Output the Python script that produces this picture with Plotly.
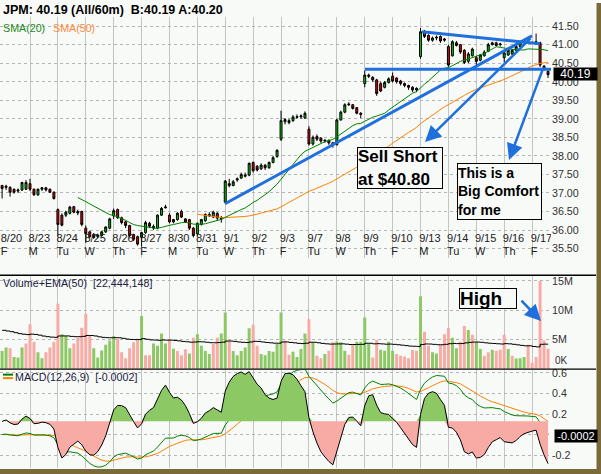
import plotly.graph_objects as go
import numpy as np
import pandas as pd

W, H = 601, 474

day_labels = ["8/20", "8/23", "8/24", "8/25", "8/26", "8/27", "8/30", "8/31", "9/1", "9/2",
              "9/3", "9/7", "9/8", "9/9", "9/10", "9/13", "9/14", "9/15", "9/16", "9/17"]
day_letters = ["F", "M", "Tu", "W", "Th", "F", "M", "Tu", "W", "Th",
               "F", "Tu", "W", "Th", "F", "M", "Tu", "W", "Th", "F"]
BARS_PER_DAY = 7

# hourly candles
opens = [37.20, 37.15, 37.15, 37.10, 37.05, 37.08, 37.10,
         37.25, 37.10, 36.95, 37.10, 37.14, 37.10, 37.02,
         36.55, 36.40, 36.40, 36.45, 36.63, 36.50, 36.50,
         36.05, 35.95, 35.88, 35.82, 35.85, 35.95, 36.05,
         36.38, 36.55, 36.33, 36.22, 36.12, 35.88, 35.82,
         35.80, 35.93, 36.18, 36.05, 36.05, 36.40, 36.60,
         36.40, 36.28, 36.28, 36.50, 36.30, 36.28, 36.05,
         35.90, 36.15, 36.25, 36.42, 36.35, 36.45, 36.32,
         36.75, 37.25, 37.20, 37.35, 37.40, 37.45, 37.48,
         37.82, 37.72, 37.65, 37.75, 37.68, 37.82, 37.98,
         38.45, 38.92, 38.90, 38.95, 39.04, 39.05, 39.02,
         38.72, 38.32, 38.52, 38.48, 38.40, 38.42, 38.35,
         38.30, 38.97, 39.18, 39.40, 39.38, 39.30, 39.15,
         39.95, 40.18, 40.12, 40.05, 39.95, 39.85, 39.98,
         40.15, 40.10, 40.02, 39.95, 39.90, 39.85, 39.78,
         40.68, 41.35, 41.25, 41.12, 41.18, 41.22, 41.12,
         40.95, 40.70, 41.05, 41.00, 40.85, 40.55, 40.70,
         40.65, 40.58, 40.70, 40.82, 41.00, 41.05, 41.00,
         40.65, 40.72, 40.75, 40.85, 40.95, 41.04, 41.05,
         41.05, 41.05, 41.05, 40.42, 40.28]
highs = [37.22, 37.22, 37.18, 37.12, 37.12, 37.30, 37.35,
         37.38, 37.12, 37.12, 37.16, 37.16, 37.12, 37.04,
         36.58, 36.45, 36.52, 36.65, 36.65, 36.55, 36.52,
         36.12, 35.98, 35.92, 35.90, 35.98, 36.10, 36.33,
         36.58, 36.58, 36.36, 36.25, 36.14, 35.90, 35.85,
         35.95, 36.25, 36.22, 36.15, 36.42, 36.62, 36.68,
         36.45, 36.30, 36.48, 36.55, 36.32, 36.30, 36.08,
         36.20, 36.30, 36.45, 36.48, 36.52, 36.48, 36.38,
         37.35, 37.38, 37.35, 37.42, 37.55, 37.55, 37.82,
         37.85, 37.75, 37.80, 37.78, 37.85, 38.00, 38.18,
         39.22, 39.02, 39.00, 39.10, 39.12, 39.12, 39.20,
         38.80, 38.55, 38.58, 38.50, 38.45, 38.44, 38.38,
         39.00, 39.22, 39.42, 39.45, 39.40, 39.32, 39.18,
         40.30, 40.22, 40.15, 40.08, 40.00, 40.02, 40.12,
         40.25, 40.12, 40.05, 39.98, 39.92, 39.88, 39.85,
         41.45, 41.40, 41.28, 41.22, 41.25, 41.25, 41.18,
         41.00, 41.12, 41.10, 41.02, 40.88, 40.80, 40.92,
         40.70, 40.75, 40.85, 41.05, 41.08, 41.08, 41.05,
         40.82, 40.88, 40.88, 41.00, 41.08, 41.10, 41.10,
         41.08, 41.30, 41.08, 40.45, 40.30]
lows = [36.85, 37.08, 36.90, 36.98, 37.00, 37.05, 37.08,
        37.05, 36.92, 36.92, 37.05, 37.04, 37.00, 36.82,
        35.85, 36.10, 36.35, 36.42, 36.45, 36.40, 36.10,
        35.65, 35.78, 35.76, 35.78, 35.82, 35.92, 36.02,
        36.30, 36.30, 36.15, 36.05, 35.80, 35.70, 35.58,
        35.55, 35.90, 36.05, 36.00, 36.02, 36.38, 36.58,
        36.18, 36.18, 36.25, 36.32, 36.20, 36.00, 35.80,
        35.85, 36.12, 36.22, 36.35, 36.32, 36.25, 36.20,
        36.72, 37.15, 37.18, 37.30, 37.38, 37.42, 37.45,
        37.55, 37.58, 37.62, 37.62, 37.65, 37.80, 37.95,
        38.40, 38.85, 38.85, 38.92, 39.00, 39.00, 39.00,
        38.28, 38.28, 38.40, 38.35, 38.35, 38.30, 38.22,
        38.28, 38.95, 39.15, 39.35, 39.25, 39.12, 39.02,
        39.85, 40.10, 40.00, 39.62, 39.72, 39.82, 39.95,
        39.98, 39.95, 39.90, 39.85, 39.78, 39.72, 39.72,
        40.62, 41.18, 41.08, 41.08, 41.12, 41.05, 41.08,
        40.40, 40.68, 40.95, 40.75, 40.48, 40.50, 40.68,
        40.45, 40.55, 40.68, 40.80, 40.98, 40.95, 40.95,
        40.52, 40.70, 40.72, 40.82, 40.92, 41.02, 41.02,
        41.02, 41.00, 40.40, 40.30, 40.10]
closes = [37.12, 37.18, 37.02, 37.02, 37.08, 37.28, 37.28,
          37.10, 36.95, 37.10, 37.14, 37.08, 37.02, 36.85,
          36.15, 36.13, 36.48, 36.62, 36.48, 36.46, 36.15,
          35.90, 35.82, 35.80, 35.86, 35.95, 36.08, 36.30,
          36.52, 36.33, 36.20, 36.12, 35.85, 35.75, 35.62,
          35.93, 36.20, 36.10, 36.10, 36.40, 36.58, 36.62,
          36.22, 36.22, 36.45, 36.35, 36.22, 36.05, 35.85,
          36.18, 36.28, 36.42, 36.38, 36.48, 36.32, 36.30,
          37.32, 37.20, 37.30, 37.38, 37.50, 37.48, 37.80,
          37.60, 37.62, 37.75, 37.68, 37.82, 37.95, 38.15,
          38.95, 38.98, 38.95, 39.05, 39.06, 39.08, 39.15,
          38.32, 38.50, 38.45, 38.40, 38.42, 38.35, 38.30,
          38.97, 39.18, 39.38, 39.38, 39.28, 39.15, 39.12,
          40.18, 40.15, 40.05, 39.68, 39.75, 39.98, 40.08,
          40.02, 40.00, 39.95, 39.90, 39.85, 39.78, 39.82,
          41.35, 41.22, 41.12, 41.18, 41.20, 41.10, 41.15,
          40.45, 41.08, 40.98, 40.80, 40.52, 40.75, 40.88,
          40.55, 40.72, 40.80, 41.00, 41.05, 40.98, 41.02,
          40.78, 40.85, 40.85, 40.95, 41.05, 41.06, 41.06,
          41.06, 41.08, 40.45, 40.33, 40.19]

# hourly volume in millions and its colour (1 = green / up, 0 = pink / down)
volumes_m = [3.0, 3.6, 3.5, 2.0, 1.9, 3.6, 4.3,
             7.6, 4.6, 2.8, 1.8, 2.8, 3.6, 4.6,
             11.1, 5.9, 5.6, 3.5, 4.3, 5.3, 7.0,
             9.4, 5.6, 3.5, 1.9, 3.1, 4.1, 4.8,
             5.6, 5.1, 2.8, 1.8, 3.5, 4.5, 5.1,
             9.0, 2.3, 2.3, 4.3, 3.9, 6.0, 4.3,
             5.0, 3.4, 3.0, 2.3, 3.3, 2.6, 5.3,
             5.9, 3.9, 3.0, 2.5, 4.2, 5.3, 6.0,
             9.6, 4.8, 3.0, 2.3, 3.0, 3.6, 6.9,
             7.5, 3.9, 2.5, 2.3, 3.0, 2.9, 4.2,
             9.6, 4.8, 2.4, 2.9, 2.0, 3.35, 6.0,
             8.46, 4.5, 2.2, 1.8, 2.5, 3.05, 4.5,
             4.65, 4.5, 3.05, 2.4, 4.2, 4.6, 4.6,
             8.75, 4.3, 1.9, 4.9, 3.24, 3.05, 4.6,
             3.05, 2.5, 2.2, 2.1, 1.8, 3.2, 3.05,
             12.4, 6.3, 3.9, 2.8, 2.6, 4.1, 5.9,
             6.9, 5.3, 3.5, 4.6, 7.3, 6.6, 5.8,
             4.6, 3.35, 2.2, 2.8, 3.24, 3.05, 3.24,
             5.8, 3.35, 2.2, 1.75, 1.8, 2.0, 4.1,
             1.0, 2.0, 15.0, 4.8, 3.4]
vol_up = [1, 1, 0, 1, 1, 1, 0,
          0, 0, 1, 1, 0, 0, 0,
          0, 1, 1, 1, 0, 0, 0,
          0, 0, 1, 1, 1, 1, 1,
          1, 0, 0, 0, 0, 0, 0,
          1, 0, 0, 1, 1, 1, 1,
          0, 1, 0, 0, 0, 1, 0,
          1, 1, 1, 1, 0, 0, 1,
          1, 0, 1, 1, 1, 1, 1,
          0, 0, 1, 1, 1, 1, 1,
          1, 0, 0, 1, 1, 1, 1,
          0, 1, 0, 0, 1, 0, 0,
          1, 1, 1, 0, 0, 1, 1,
          1, 1, 0, 0, 1, 1, 1,
          1, 0, 0, 0, 0, 0, 0,
          1, 0, 0, 1, 1, 0, 0,
          0, 1, 1, 0, 0, 1, 0,
          1, 1, 0, 0, 1, 0, 0,
          0, 1, 0, 1, 1, 1, 0,
          0, 0, 0, 0, 0]
vol_ema_seed = 6.7   # EMA(50) value carried in from before the first bar

price_ticks = [35.5, 36.0, 36.5, 37.0, 37.5, 38.0, 38.5, 39.0, 39.5, 40.0, 40.5, 41.0, 41.5]
vol_ticks = [0, 5, 10, 15]
vol_tick_text = ["", "5M", "10M", "15M"]
macd_ticks = [-0.2, 0.0, 0.2, 0.4, 0.6]
macd_tick_text = ["-0.2", "", "0.2", "0.4", "0.6"]

# ---------------------------------------------------------------- indicators
nbar = len(closes)
xs = list(range(nbar))
cs = pd.Series(closes)
sma20 = cs.rolling(20).mean()
sma50 = cs.rolling(50).mean()
ema12 = cs.ewm(span=12, adjust=False).mean()
ema26 = cs.ewm(span=26, adjust=False).mean()
macd = ema12 - ema26
signal = macd.ewm(span=9, adjust=False).mean()
hist = (macd - signal).to_numpy()

alpha = 2.0 / 51.0
vol_ema = []
prev = vol_ema_seed
for v in volumes_m:
    prev = prev + alpha * (v - prev)
    vol_ema.append(prev)

# ---------------------------------------------------------------- geometry helpers
def fx(px):
    return px / W

def fy(py):
    return 1 - py / H

PX0, PX_PER_BAR = 2.1, 3.985          # pixel of bar 0 and pixel step per bar
X_RIGHT = 551
x_range = [(0 - PX0) / PX_PER_BAR, (X_RIGHT - PX0) / PX_PER_BAR]

P_TOP, P_BOT = 14, 257
PRICE_Y0, PRICE_PX = 23.3, 37.3        # 41.50 sits at y=23.3, 37.3 px per dollar
price_range = [41.5 - (P_BOT - PRICE_Y0) / PRICE_PX, 41.5 + (PRICE_Y0 - P_TOP) / PRICE_PX]

V_TOP, V_BOT = 274.5, 368
vol_range = [0, (V_BOT - V_TOP) / 5.887]

M_TOP, M_BOT = 369, 468
macd_range = [-0.2 - (M_BOT - 455) / 103.4, 0.6 + (372.3 - M_TOP) / 103.4]
hist_zero_frac = (M_BOT - 421) / (M_BOT - M_TOP)
K = max(hist.max() / (1 - hist_zero_frac) * 1.04, -hist.min() / hist_zero_frac * 0.97)
hist_range = [-hist_zero_frac * K, (1 - hist_zero_frac) * K]

def to_bar(px):
    return (px - PX0) / PX_PER_BAR

def to_price(py):
    return 41.5 - (py - PRICE_Y0) / PRICE_PX

def to_vol(py):
    return (V_BOT - py) / 5.887

BG = "#f8faf8"
GREEN_C = "#00c800"
RED_C = "#e00000"
VOL_G = "#8cc864"
VOL_P = "#f8aaa4"
BLUE = "#1f6fdc"
FONT = "Arial"

fig = go.Figure()

# date labels (drawn under the candles)
day_starts = [d * BARS_PER_DAY - 0.35 for d in range(len(day_labels))]
fig.add_trace(go.Scatter(x=day_starts, y=[to_price(237.5)] * len(day_labels), text=day_labels,
                         mode="text", textposition="middle right",
                         textfont=dict(family=FONT, size=11, color="#202020"),
                         xaxis="x", yaxis="y", hoverinfo="skip", showlegend=False))
fig.add_trace(go.Scatter(x=day_starts, y=[to_price(250.5)] * len(day_letters), text=day_letters,
                         mode="text", textposition="middle right",
                         textfont=dict(family=FONT, size=11, color="#202020"),
                         xaxis="x", yaxis="y", hoverinfo="skip", showlegend=False))

fig.add_trace(go.Scatter(x=xs, y=sma50, mode="lines", line=dict(color="#ff8000", width=1),
                         xaxis="x", yaxis="y", hoverinfo="skip", showlegend=False))
fig.add_trace(go.Scatter(x=xs, y=sma20, mode="lines", line=dict(color="#008000", width=1),
                         xaxis="x", yaxis="y", hoverinfo="skip", showlegend=False))
fig.add_trace(go.Candlestick(x=xs, open=opens, high=highs, low=lows, close=closes,
                             increasing=dict(fillcolor=GREEN_C, line=dict(color="#000000", width=1)),
                             decreasing=dict(fillcolor=RED_C, line=dict(color="#000000", width=1)),
                             whiskerwidth=0, xaxis="x", yaxis="y", showlegend=False, hoverinfo="skip"))

# volume
fig.add_trace(go.Bar(x=xs, y=volumes_m, width=0.75,
                     marker=dict(color=[VOL_G if u else VOL_P for u in vol_up], line=dict(width=0)),
                     xaxis="x2", yaxis="y2", hoverinfo="skip", showlegend=False))
fig.add_trace(go.Scatter(x=xs, y=vol_ema, mode="lines", line=dict(color="#000000", width=1, shape="hv"),
                         xaxis="x2", yaxis="y2", hoverinfo="skip", showlegend=False))

# MACD histogram (own scale) + lines
pos = np.where(hist > 0, hist, 0.0)
neg = np.where(hist < 0, hist, 0.0)
fig.add_trace(go.Scatter(x=xs, y=pos, mode="lines", line=dict(width=0), fill="tozeroy",
                         fillcolor=VOL_G, xaxis="x3", yaxis="y4", hoverinfo="skip", showlegend=False))
fig.add_trace(go.Scatter(x=xs, y=neg, mode="lines", line=dict(width=0), fill="tozeroy",
                         fillcolor=VOL_P, xaxis="x3", yaxis="y4", hoverinfo="skip", showlegend=False))
fig.add_trace(go.Scatter(x=xs, y=hist, mode="lines", line=dict(color="#000000", width=1),
                         xaxis="x3", yaxis="y4", hoverinfo="skip", showlegend=False))
fig.add_trace(go.Scatter(x=xs, y=signal, mode="lines", line=dict(color="#ff8000", width=1),
                         xaxis="x3", yaxis="y3", hoverinfo="skip", showlegend=False))
fig.add_trace(go.Scatter(x=xs, y=macd, mode="lines", line=dict(color="#008000", width=1),
                         xaxis="x3", yaxis="y3", hoverinfo="skip", showlegend=False))

grid_x = [d * BARS_PER_DAY for d in range(1, len(day_labels))]
xcommon = dict(range=x_range, domain=[0, fx(X_RIGHT)], tickvals=grid_x, showticklabels=False,
               showgrid=True, gridcolor="#c4c4c4", gridwidth=1, zeroline=False, showline=False,
               ticks="", fixedrange=True)
tickfont = dict(family=FONT, size=10.7, color="#303030")
ycommon = dict(side="right", showgrid=True, gridcolor="#b4b4b4", griddash="3px,3px", gridwidth=1,
               zeroline=False, showline=False, ticks="", tickfont=tickfont, fixedrange=True)

fig.update_layout(
    width=W, height=H, margin=dict(l=0, r=0, t=0, b=0), autosize=False,
    paper_bgcolor=BG, plot_bgcolor=BG, showlegend=False,
    xaxis=dict(**xcommon, anchor="y", rangeslider=dict(visible=False)),
    xaxis2=dict(**xcommon, anchor="y2"),
    xaxis3=dict(**xcommon, anchor="y3"),
    yaxis=dict(**ycommon, anchor="x", domain=[fy(P_BOT), fy(P_TOP)], range=price_range,
               tickvals=price_ticks, ticktext=["%.2f" % v for v in price_ticks]),
    yaxis2=dict(**ycommon, anchor="x2", domain=[fy(V_BOT), fy(V_TOP)], range=vol_range,
                tickvals=vol_ticks, ticktext=vol_tick_text),
    yaxis3=dict(**ycommon, anchor="x3", domain=[fy(M_BOT), fy(M_TOP)], range=macd_range,
                tickvals=macd_ticks, ticktext=macd_tick_text),
    yaxis4=dict(overlaying="y3", anchor="x3", range=hist_range, visible=False, fixedrange=True),
)

shapes = []
# panel separators and frame
for py in (V_TOP - 0.5, V_BOT + 0.5):
    shapes.append(dict(type="line", xref="paper", yref="paper", x0=0, x1=fx(596), y0=fy(py), y1=fy(py),
                       line=dict(color="#000000", width=1.3)))
shapes.append(dict(type="rect", xref="paper", yref="paper", x0=fx(596.5), x1=1, y0=0, y1=1,
                   fillcolor="#7a6a3a", line=dict(width=0)))
shapes.append(dict(type="rect", xref="paper", yref="paper", x0=0, x1=1, y0=0, y1=fy(469),
                   fillcolor="#7a6a3a", line=dict(width=0)))
# user-drawn trend lines
shapes.append(dict(type="line", xref="x", yref="y", x0=to_bar(225), y0=to_price(202),
                   x1=to_bar(532), y1=to_price(33), line=dict(color=BLUE, width=3)))
shapes.append(dict(type="line", xref="x", yref="y", x0=to_bar(422), y0=to_price(29),
                   x1=to_bar(540), y1=to_price(41), line=dict(color=BLUE, width=3)))
shapes.append(dict(type="line", xref="x", yref="y", x0=to_bar(365), y0=to_price(66.7),
                   x1=to_bar(551), y1=to_price(66.7), line=dict(color=BLUE, width=3)))
# MACD legend swatches
shapes.append(dict(type="line", xref="paper", yref="paper", x0=fx(3), x1=fx(13), y0=fy(374), y1=fy(374),
                   line=dict(color="#008000", width=2)))
shapes.append(dict(type="line", xref="paper", yref="paper", x0=fx(3), x1=fx(13), y0=fy(377.5), y1=fy(377.5),
                   line=dict(color="#ff8000", width=2)))
fig.update_layout(shapes=shapes)

ann = []
def label(text, px, py, size=10.7, color="#202040", bold=False, xanchor="left"):
    t = "<b>%s</b>" % text if bold else text
    ann.append(dict(text=t, xref="paper", yref="paper", x=fx(px), y=fy(py), xanchor=xanchor,
                    yanchor="middle", showarrow=False, borderpad=0,
                    font=dict(family=FONT, size=size, color=color)))

label("JPM: 40.19 (All/60m) \u00a0B:40.19 A:40.20", 2, 7.5, size=12.5, color="#000000", bold=True)
label("SMA(20)", 2, 25, color="#1a8a1a")
label("SMA(50)", 52, 25, color="#ff8a3a")
label("Volume+EMA(50) \u00a0[22,444,148]", 2, 281.5)
label("MACD(12,26,9) \u00a0[-0.0002]", 14, 376)
label("0K", 554, 359.5, size=10, color="#303030")

# value boxes on the right axis
ann.append(dict(text="40.19", xref="paper", yref="paper", x=fx(553), y=fy(71.3), xanchor="left",
                yanchor="middle", showarrow=False, bgcolor="#000000", width=43, height=12, borderpad=0,
                align="center", font=dict(family=FONT, size=12, color="#ffffff")))
ann.append(dict(text="-0.0002", xref="paper", yref="paper", x=fx(554), y=fy(435.5), xanchor="left",
                yanchor="middle", showarrow=False, bgcolor="#000000", width=42, height=12, borderpad=0,
                align="center", font=dict(family=FONT, size=11, color="#ffffff")))

# user-drawn arrows
for (tx, ty, hx, hy) in [(532, 34, 425, 140), (543, 66, 509, 158)]:
    ann.append(dict(xref="x", yref="y", axref="x", ayref="y", x=to_bar(hx), y=to_price(hy),
                    ax=to_bar(tx), ay=to_price(ty), text="", showarrow=True, arrowhead=2,
                    arrowsize=1.3, arrowwidth=2.5, arrowcolor=BLUE))
ann.append(dict(xref="x2", yref="y2", axref="x2", ayref="y2", x=to_bar(541), y=to_vol(320),
                ax=to_bar(520), ay=to_vol(298), text="", showarrow=True, arrowhead=2,
                arrowsize=1.3, arrowwidth=2.5, arrowcolor=BLUE))

# text boxes
def box(text, cx, cy, w, h, size, xref="x", yref="y", yval=None):
    ann.append(dict(text=text, xref=xref, yref=yref, x=to_bar(cx), y=yval, xanchor="center",
                    yanchor="middle", showarrow=False, bgcolor=BG, bordercolor="#000000", borderwidth=1,
                    borderpad=0, width=w, height=h, align="left", valign="middle",
                    font=dict(family=FONT, size=size, color="#000000")))

box("<b>Sell Short<br>at $40.80</b>", 400, 166, 84, 40, 17, yval=to_price(166))
box("<b>This is a<br>Big Comfort<br>for me</b>", 499.5, 189.5, 83, 55, 14, yval=to_price(189.5))
box("<b>High</b>", 488, 297.5, 56, 19, 19, xref="x2", yref="y2", yval=to_vol(297.5))

fig.update_layout(annotations=ann)
fig.write_html("out.html")
